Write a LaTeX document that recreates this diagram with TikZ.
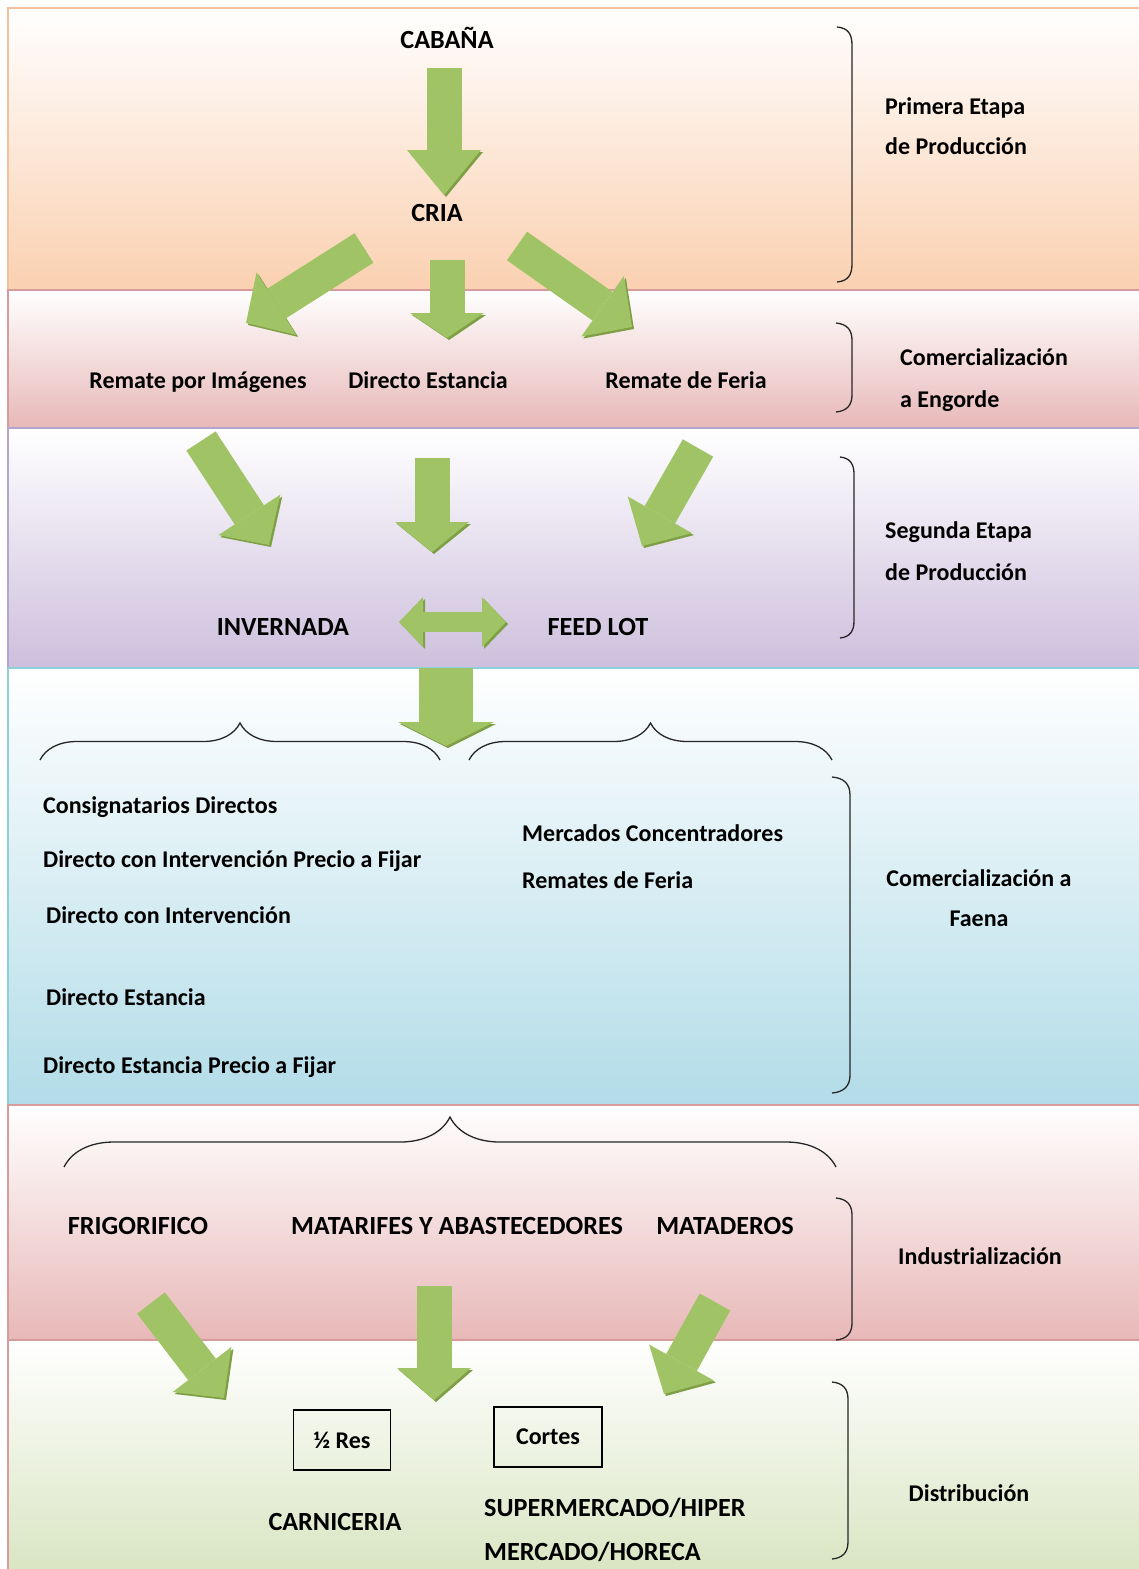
\documentclass[tikz,border=0pt]{standalone}
\usepackage{fontspec}
\setmainfont{Carlito}
\usepackage{tikz}
\usetikzlibrary{arrows.meta,decorations.pathreplacing}

\definecolor{bandorange}{HTML}{FAD0B0}
\definecolor{lineorange}{HTML}{F1C09C}
\definecolor{bandpink}{HTML}{E8B8B8}
\definecolor{linepink}{HTML}{D89B9B}
\definecolor{bandpurple}{HTML}{CDBFDD}
\definecolor{linepurple}{HTML}{B3A5CD}
\definecolor{bandblue}{HTML}{B2DCE8}
\definecolor{lineblue}{HTML}{8ECFDC}
\definecolor{bandgreen}{HTML}{D8E4C0}
\definecolor{arrowgreen}{HTML}{A0C465}
\definecolor{arrowshade}{HTML}{7E9F45}
\definecolor{bracegray}{HTML}{262626}

\begin{document}
\begin{tikzpicture}[x=1pt,y=-1pt,
		every node/.style={inner sep=0pt, font=\fontsize{24}{29}\selectfont\bfseries},
		caps/.style={font=\fontsize{26.2}{31}\selectfont\bfseries},
		greenarrow/.style={line width=35pt, draw=arrowgreen,
			-{Triangle[width=74pt,length=#1,line width=0pt]},
			preaction={draw=arrowshade, transform canvas={shift={(2pt,-2pt)}}}},
		greenarrow/.default=36pt,
		widearrow/.style={line width=54pt, draw=arrowgreen,
			-{Triangle[width=96pt,length=24pt,line width=0pt]},
			preaction={draw=arrowshade, transform canvas={shift={(2pt,-2pt)}}}},
		twowayarrow/.style={line width=20pt, draw=arrowgreen,
			{Triangle[width=50pt,length=24pt,line width=0pt]}-{Triangle[width=50pt,length=24pt,line width=0pt]},
			preaction={draw=arrowshade, transform canvas={shift={(2pt,-2pt)}}}},
		hbrace/.style={decorate, decoration={brace,amplitude=#1}, line width=1.3pt, draw=bracegray},
		vbrace/.style={line width=1.3pt, draw=bracegray},
		cutbox/.style={draw, line width=1.4pt, minimum width=#1, minimum height=60pt},
	]
	\useasboundingbox (0,0) rectangle (1139,1569);

	% bands
	\shade[top color=white, bottom color=bandorange, draw=lineorange, line width=2pt] (8,8) rectangle (1150,290);
	\shade[top color=white, bottom color=bandpink, draw=linepink, line width=2pt] (8,290) rectangle (1150,428);
	\shade[top color=white, bottom color=bandpurple, draw=linepurple, line width=2pt] (8,428) rectangle (1150,668);
	\shade[top color=white, bottom color=bandblue, draw=lineblue, line width=2pt] (8,668) rectangle (1150,1105);
	\shade[top color=white, bottom color=bandgreen, draw=linepink, line width=2pt] (8,1340) rectangle (1150,1580);
	\shade[top color=white, bottom color=bandpink, draw=linepink, line width=2pt] (8,1105) rectangle (1150,1340);

	% primera etapa
	\node[caps, anchor=base] (cabana) at (447,48) {CABAÑA};
	\node[caps, anchor=base] (cria) at (437,221) {CRIA};
	\node[anchor=base west] (prim1) at (885,114) {Primera Etapa};
	\node[anchor=base west] (prim2) at (885,154) {de Producción};

	% comercializacion a engorde
	\node[anchor=base] (rimg) at (198,388) {Remate por Imágenes};
	\node[anchor=base] (dest) at (428,388) {Directo Estancia};
	\node[anchor=base] (rfer) at (686,388) {Remate de Feria};
	\node[anchor=base west] (come1) at (900,365) {Comercialización};
	\node[anchor=base west] (come2) at (900,407) {a Engorde};

	% segunda etapa
	\node[caps, anchor=base] (inv) at (283,635) {INVERNADA};
	\node[caps, anchor=base] (feed) at (598,635) {FEED LOT};
	\node[anchor=base west] (seg1) at (885,538) {Segunda Etapa};
	\node[anchor=base west] (seg2) at (885,580) {de Producción};

	% comercializacion a faena
	\node[anchor=base west] (consig) at (43,813) {Consignatarios Directos};
	\node[anchor=base west] (dcipf) at (43,867) {Directo con Intervención Precio a Fijar};
	\node[anchor=base west] (dci) at (46,923) {Directo con Intervención};
	\node[anchor=base west] (dest2) at (46,1005) {Directo Estancia};
	\node[anchor=base west] (despf) at (43,1073) {Directo Estancia Precio a Fijar};
	\node[anchor=base west] (mconc) at (522,841) {Mercados Concentradores};
	\node[anchor=base west] (rfer2) at (522,888) {Remates de Feria};
	\node[anchor=base] (faena1) at (979,886) {Comercialización a};
	\node[anchor=base] (faena2) at (979,926) {Faena};

	% industrializacion
	\node[caps, anchor=base] (frig) at (138,1234) {FRIGORIFICO};
	\node[caps, anchor=base] (matar) at (457,1234) {MATARIFES Y ABASTECEDORES};
	\node[caps, anchor=base] (matad) at (725,1234) {MATADEROS};
	\node[anchor=base] (indus) at (980,1264) {Industrialización};

	% distribucion
	\node[cutbox=97pt] (halfres) at (342,1440) {½ Res};
	\node[cutbox=108pt] (cortes) at (548,1437) {Cortes};
	\node[caps, anchor=base] (carn) at (335,1530) {CARNICERIA};
	\node[caps, anchor=base west] (super1) at (484,1516) {SUPERMERCADO/HIPER};
	\node[caps, anchor=base west] (super2) at (484,1560) {MERCADO/HORECA};
	\node[anchor=base] (distr) at (969,1501) {Distribución};

	% braces
	\draw[hbrace=37pt] (40,760) -- (440,760);
	\draw[hbrace=37pt] (469,760) -- (832,760);
	\draw[hbrace=50pt] (64,1167) -- (836,1167);
	\draw[vbrace] (837,27) .. controls (848,28) and (852,34) .. (852,45) -- (852,264) .. controls (852,275) and (848,281) .. (837,282);
	\draw[vbrace] (836,323) .. controls (847,324) and (852,330) .. (852,340) -- (852,395) .. controls (852,405) and (847,411) .. (836,412);
	\draw[vbrace] (840,457) .. controls (850,458) and (854,464) .. (854,474) -- (854,621) .. controls (854,631) and (850,637) .. (840,638);
	\draw[vbrace] (832,777) .. controls (844,778) and (850,784) .. (850,795) -- (850,1075) .. controls (850,1086) and (844,1092) .. (832,1093);
	\draw[vbrace] (836,1198) .. controls (847,1199) and (852,1205) .. (852,1215) -- (852,1323) .. controls (852,1333) and (847,1339) .. (836,1340);
	\draw[vbrace] (832,1382) .. controls (843,1383) and (848,1389) .. (848,1399) -- (848,1542) .. controls (848,1552) and (843,1558) .. (832,1559);

	% arrow ends
	\coordinate (a1s) at (444,68);   \coordinate (a1e) at (444,195);
	\coordinate (a2s) at (364,248);  \coordinate (a2e) at (246,323);
	\coordinate (a3s) at (447,260);  \coordinate (a3e) at (447,338);
	\coordinate (a4s) at (517,246);  \coordinate (a4e) at (632,327);
	\coordinate (a5s) at (201,441);  \coordinate (a5e) at (269,545);
	\coordinate (a6s) at (432,458);  \coordinate (a6e) at (432,552);
	\coordinate (a7s) at (698,448);  \coordinate (a7e) at (642,546);
	\coordinate (a8s) at (399,622);  \coordinate (a8e) at (506,622);
	\coordinate (a9s) at (446,668);  \coordinate (a9e) at (446,746);
	\coordinate (a10s) at (151,1303); \coordinate (a10e) at (224,1398);
	\coordinate (a11s) at (434,1286); \coordinate (a11e) at (434,1400);
	\coordinate (a12s) at (715,1302); \coordinate (a12e) at (664,1394);

	% arrows
	\draw[greenarrow=45pt] (a1s) -- (a1e);
	\draw[greenarrow] (a2s) -- (a2e);
	\draw[greenarrow=25pt] (a3s) -- (a3e);
	\draw[greenarrow] (a4s) -- (a4e);
	\draw[greenarrow] (a5s) -- (a5e);
	\draw[greenarrow=30pt] (a6s) -- (a6e);
	\draw[greenarrow] (a7s) -- (a7e);
	\draw[twowayarrow] (a8s) -- (a8e);
	\draw[widearrow] (a9s) -- (a9e);
	\draw[greenarrow] (a10s) -- (a10e);
	\draw[greenarrow=32pt] (a11s) -- (a11e);
	\draw[greenarrow] (a12s) -- (a12e);
\end{tikzpicture}
\end{document}
